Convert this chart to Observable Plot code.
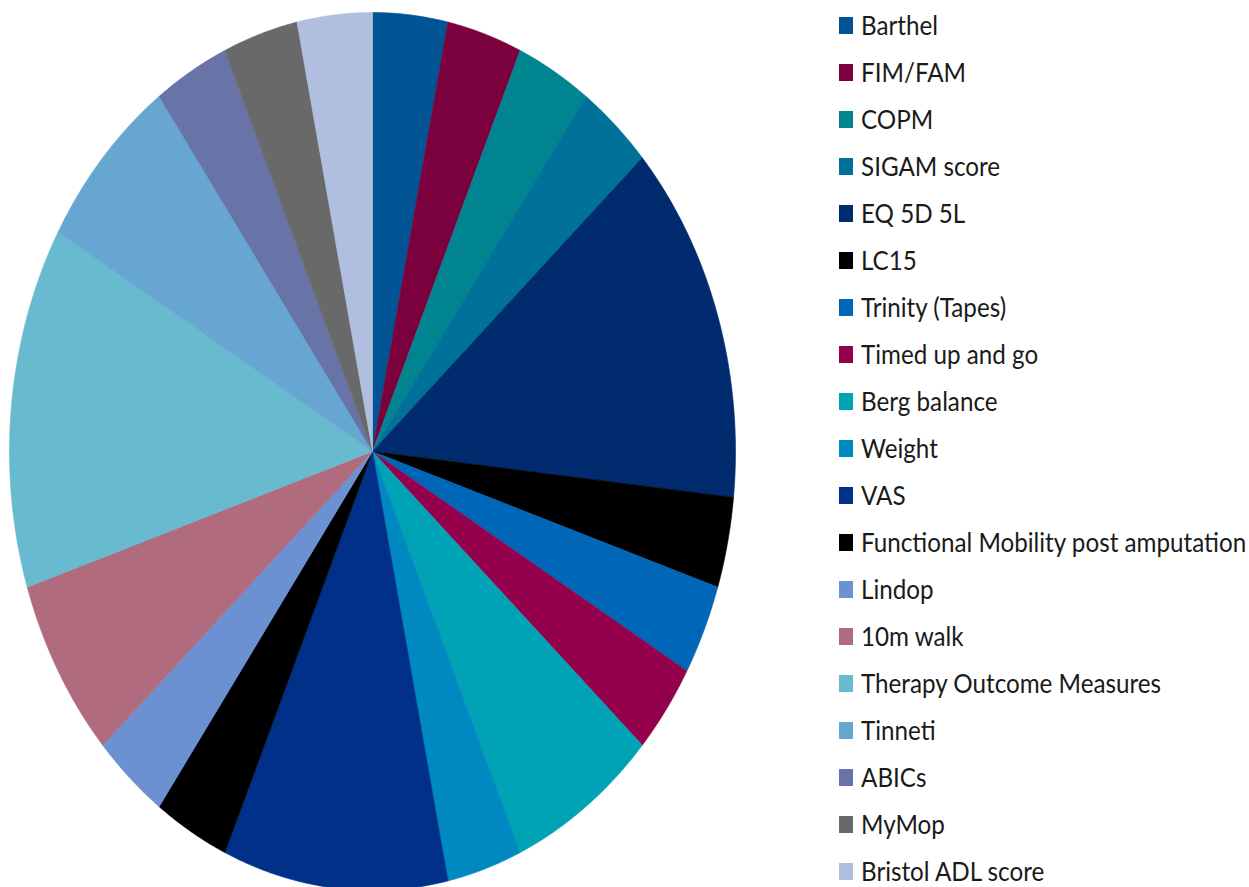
<!DOCTYPE html>
<html><head><meta charset="utf-8">
<script src="https://cdn.jsdelivr.net/npm/d3@7"></script>
<script src="https://cdn.jsdelivr.net/npm/@observablehq/plot@0.6"></script>
<style>
body{margin:0;background:#fff;}
#wrap{position:relative;width:1249px;height:887px;overflow:hidden;}
#chart{position:absolute;left:0;top:0;}
#legend{position:absolute;left:839px;top:2px;}
.row{height:47px;display:flex;align-items:center;white-space:nowrap;}
.sw{width:14px;height:17px;flex:none;margin-right:8px;}
.lb{font-family:Lato;color:#1a1a1a;transform-origin:left center;display:inline-block;line-height:1;}
</style></head><body><div id="wrap"><div id="chart"></div><div id="legend"></div></div>
<script>
const categories = ["Barthel","FIM/FAM","COPM","SIGAM score","EQ 5D 5L","LC15","Trinity (Tapes)","Timed up and go","Berg balance","Weight","VAS","Functional Mobility post amputation","Lindop","10m walk","Therapy Outcome Measures","Tinneti","ABICs","MyMop","Bristol ADL score"];
const counts = [1,1,1,1,4,1,1,1,2,1,3,1,1,2,4,2,1,1,1];
const colors = ["#005494","#7a003e","#00848f","#00729a","#002b6e","#000000","#0066b8","#95004d","#00a2b5","#0089c0","#003087","#000000","#6b91d3","#b06b7e","#68bace","#68a6d2","#6873a8","#696969","#b0bee0"];

const arcs = d3.pie().sort(null).value(d => d)(counts);
const pts = [];
arcs.forEach((s, i) => {
  const name = categories[i];
  pts.push({name, x: 0, y: 0});
  const n = Math.max(2, Math.ceil((s.endAngle - s.startAngle) / (Math.PI / 360)));
  for (let k = 0; k <= n; k++) {
    const t = s.startAngle + (s.endAngle - s.startAngle) * k / n;
    pts.push({name, x: Math.sin(t), y: Math.cos(t)});
  }
  pts.push({name, x: 0, y: 0});
});

const cx = 372, cy = 451, rx = 363, ry = 439, W = 1249, H = 887;
const chart = Plot.plot({
  width: W, height: H, margin: 0,
  x: {domain: [-cx / rx, (W - cx) / rx], axis: null},
  y: {domain: [(cy - H) / ry, cy / ry], axis: null},
  color: {domain: categories, range: colors},
  marks: [
    Plot.line(pts, {x: "x", y: "y", z: "name", fill: "name", stroke: "name", strokeWidth: 0.6, curve: "linear"})
  ]
});
document.getElementById("chart").appendChild(chart);

const ctx = document.createElement("canvas").getContext("2d");
ctx.font = "100px Lato";
const wLong = ctx.measureText("Functional Mobility post amputation").width;
const fs = 386 * 100 / wLong;
const sy = 19 / (0.7165 * fs);
const legend = document.getElementById("legend");
categories.forEach((c, i) => {
  const row = document.createElement("div");
  row.className = "row";
  const sw = document.createElement("div");
  sw.className = "sw";
  sw.style.background = colors[i];
  const lb = document.createElement("span");
  lb.className = "lb";
  lb.textContent = c;
  lb.style.fontSize = fs + "px";
  lb.style.transform = `scaleY(${sy})`;
  row.appendChild(sw);
  row.appendChild(lb);
  legend.appendChild(row);
});
</script></body></html>
